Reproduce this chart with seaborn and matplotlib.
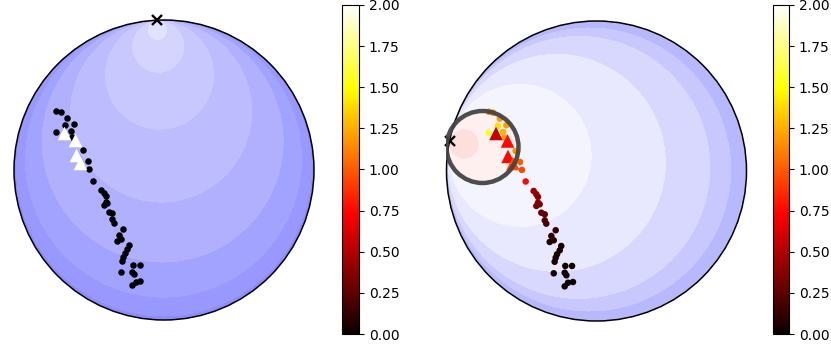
import numpy as np
import pandas as pd
import seaborn as sns
import matplotlib.pyplot as plt
import matplotlib as mpl
from matplotlib.patches import Circle

# point positions (unit disk coords)
px = [-0.717, -0.690, -0.645, -0.657, -0.601, -0.719, -0.612, -0.623, -0.539, -0.510,
      -0.497, -0.472, -0.419, -0.401, -0.390, -0.390, -0.401, -0.379, -0.368, -0.345,
      -0.345, -0.335, -0.272, -0.301, -0.285, -0.312, -0.235, -0.245, -0.263, -0.272,
      -0.279, -0.208, -0.163, -0.285, -0.212, -0.201, -0.190, -0.157, -0.212]
py = [0.395, 0.389, 0.349, 0.300, 0.305, 0.255, 0.222, 0.260, 0.133, 0.060,
      0.007, -0.070, -0.133, -0.155, -0.173, -0.211, -0.233, -0.222, -0.278, -0.289,
      -0.329, -0.351, -0.395, -0.433, -0.462, -0.473, -0.500, -0.529, -0.555, -0.578,
      -0.605, -0.633, -0.633, -0.682, -0.678, -0.695, -0.745, -0.740, -0.769]
pval = [1.15, 1.15, 1.20, 1.40, 1.20, 1.55, 1.20, 1.25, 1.15, 1.00,
        0.95, 0.75, 0.45, 0.42, 0.40, 0.35, 0.35, 0.35, 0.28, 0.28,
        0.20, 0.20, 0.12, 0.10, 0.08, 0.08, 0.06, 0.05, 0.05, 0.04,
        0.04, 0.03, 0.03, 0.02, 0.02, 0.02, 0.01, 0.01, 0.01]

# triangles
tx = [-0.670, -0.593, -0.590, -0.557]
ty = [0.250, 0.200, 0.097, 0.050]
tval = [0.57, 0.75, 0.75, 0.95]

# reference direction (x marker) for each panel
ref_left = (-0.047, 0.999)
ref_right = (-0.980, 0.200)

# contour levels and bwr shades per band
lev_left = [0, 0.067, 0.177, 0.367, 0.61, 0.81, 0.927, 0.99, 1.5]
shade_left = [0.443, 0.416, 0.392, 0.369, 0.345, 0.32, 0.298, 0.275]
lev_right = [0, 0.10, 0.243, 0.48, 0.73, 0.88, 0.95, 1.5]
shade_right = [0.565, 0.53, 0.48, 0.455, 0.424, 0.392, 0.363]

# ring on the right panel
ring_xy = (-0.76, 0.16)
ring_r = 0.24

pts = pd.DataFrame({'x': px, 'y': py, 'v': pval})
tri = pd.DataFrame({'x': tx, 'y': ty, 'v': tval})

W, H = 831, 344
fig = plt.figure(figsize=(W / 100, H / 100), dpi=100)
norm = mpl.colors.Normalize(0, 2)


def disk(ax, ref, levels, shades):
    g = np.linspace(-1, 1, 700)
    X, Y = np.meshgrid(g, g)
    pxr, pyr = ref
    num = X**2 + Y**2 - 2 * (X * pxr + Y * pyr) + 1
    den = 2 * (1 - (X * pxr + Y * pyr))
    with np.errstate(divide='ignore', invalid='ignore'):
        rho = num / den
    rho[X**2 + Y**2 > 1.02] = np.nan
    cs = ax.contourf(X, Y, rho, levels=levels,
                     colors=[plt.cm.bwr(s) for s in shades])
    clip = Circle((0, 0), 1, transform=ax.transData)
    cs.set_clip_path(clip)
    ax.add_patch(Circle((0, 0), 1, fill=False, ec='black', lw=1.1,
                        clip_on=False, zorder=5))
    ax.plot(pxr, pyr, 'x', color='black', ms=7, mew=1.7, clip_on=False, zorder=6)
    ax.set_xlim(-1, 1)
    ax.set_ylim(-1, 1)
    ax.set_aspect('equal')
    ax.axis('off')


# left panel
ax1 = fig.add_axes([14 / W, 24 / H, 300 / W, 300 / H])
disk(ax1, ref_left, lev_left, shade_left)
sns.scatterplot(data=pts, x='x', y='y', color='black', s=22, linewidth=0,
                ax=ax1, zorder=3)
sns.scatterplot(data=tri, x='x', y='y', color='white', marker='^', s=95,
                linewidth=0, ax=ax1, zorder=4)
ax1.set_xlim(-1, 1)
ax1.set_ylim(-1, 1)
ax1.axis('off')

# right panel
ax2 = fig.add_axes([446 / W, 23 / H, 301 / W, 300 / H])
disk(ax2, ref_right, lev_right, shade_right)
sns.scatterplot(data=pts, x='x', y='y', hue='v', palette='hot', hue_norm=(0, 2),
                s=22, linewidth=0, legend=False, ax=ax2, zorder=3)
sns.scatterplot(data=tri, x='x', y='y', hue='v', palette='hot', hue_norm=(0, 2),
                marker='^', s=95, linewidth=0, legend=False, ax=ax2, zorder=4)
ax2.add_patch(Circle(ring_xy, ring_r, fill=False, ec='#444444', lw=3.2,
                     alpha=0.95, zorder=7))
ax2.set_xlim(-1, 1)
ax2.set_ylim(-1, 1)
ax2.axis('off')

# colorbars
sm = mpl.cm.ScalarMappable(norm=norm, cmap='hot')
cax1 = fig.add_axes([342 / W, 10 / H, 17 / W, 329 / H])
fig.colorbar(sm, cax=cax1, ticks=np.arange(0, 2.01, 0.25))
cax2 = fig.add_axes([773 / W, 10 / H, 16 / W, 329 / H])
fig.colorbar(sm, cax=cax2, ticks=np.arange(0, 2.01, 0.25))

fig.savefig('out.png', dpi=100)
